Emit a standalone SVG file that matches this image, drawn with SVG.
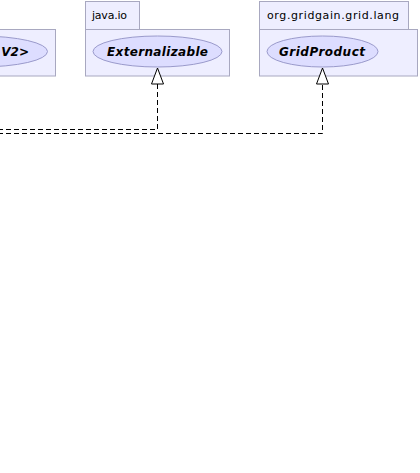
<svg xmlns="http://www.w3.org/2000/svg" width="420" height="473" viewBox="0 0 420 473">
<style>
.pkg{fill:#EEEEFF;stroke:#A8A8C0;stroke-width:1}
.iface{fill:#DDDDFF;stroke:#9A9ACB;stroke-width:1}
.tab{font-family:"DejaVu Sans",sans-serif;font-size:11px;fill:#000}
.lbl{font-family:"DejaVu Sans",sans-serif;font-size:12px;font-weight:bold;font-style:italic;fill:#000}
.dep{fill:none;stroke:#000;stroke-width:1;stroke-dasharray:5,3}
.head{fill:#FFFFFF;stroke:#000;stroke-width:1}
</style>
<rect width="420" height="473" fill="#FFFFFF"/>
<g id="pkg-left">
<rect class="pkg" x="-100" y="29.5" width="155.5" height="46.5"/>
<ellipse class="iface" cx="-20" cy="51.5" rx="67.5" ry="15.5"/>
<text class="lbl" x="29" y="55.5" text-anchor="end">V2&gt;</text>
</g>
<g id="pkg-java-io">
<rect class="pkg" x="85.5" y="1.5" width="54" height="28"/>
<rect class="pkg" x="85.5" y="29.5" width="144" height="46.5"/>
<text class="tab" x="92" y="19" textLength="35" lengthAdjust="spacing">java.io</text>
<ellipse class="iface" cx="157.5" cy="51.5" rx="64.5" ry="15.5"/>
<text class="lbl" x="107" y="55.5" textLength="101" lengthAdjust="spacing">Externalizable</text>
</g>
<g id="pkg-gridgain-lang">
<rect class="pkg" x="259.5" y="1.5" width="149" height="28"/>
<rect class="pkg" x="259.5" y="29.5" width="158" height="46.5"/>
<text class="tab" x="267" y="19" textLength="132" lengthAdjust="spacing">org.gridgain.grid.lang</text>
<ellipse class="iface" cx="322.5" cy="51.5" rx="55.5" ry="15.5"/>
<text class="lbl" x="279" y="55.5" textLength="86" lengthAdjust="spacing">GridProduct</text>
</g>
<g id="connectors">
<polyline class="dep" points="-10,129.5 157.5,129.5 157.5,84"/>
<polygon class="head" points="157.5,68 151.5,84 163.5,84"/>
<polyline class="dep" points="-10,133.5 322.5,133.5 322.5,84"/>
<polygon class="head" points="322.5,68 316.5,84 328.5,84"/>
</g>
</svg>
